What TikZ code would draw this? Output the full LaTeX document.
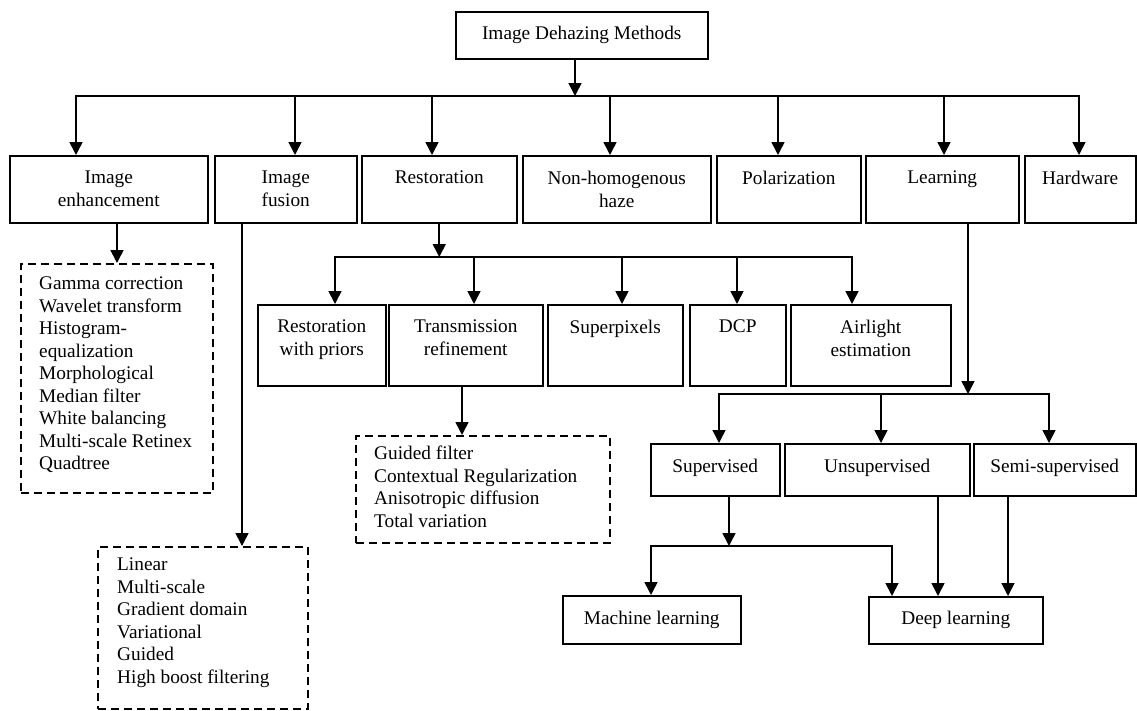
\documentclass[tikz,border=0pt]{standalone}
\usepackage{fontspec}
\setmainfont{Liberation Serif}
\usetikzlibrary{arrows.meta}
\begin{document}
\begin{tikzpicture}[x=1pt,y=-1pt,
  box/.style={draw, line width=1.5pt, inner sep=0pt, anchor=north west},
  txt/.style={font=\fontsize{19.3}{22.5}\selectfont, align=center, inner sep=0pt, anchor=north},
  list/.style={font=\fontsize{19.3}{22.5}\selectfont, align=left, inner sep=0pt, anchor=north west},
  dbox/.style={draw, line width=2pt, dash pattern=on 8pt off 5pt, inner sep=0pt, anchor=north west},
  arr/.style={line width=1.6pt, -{Triangle[width=13pt,length=13pt]}},
  bus/.style={line width=2pt, line cap=rect}]
\useasboundingbox (0,0) rectangle (1137,710);

% root
\node[box, font=\fontsize{19.3}{22.5}\selectfont, minimum width=252pt, minimum height=47pt] (top) at (455,11) {Image Dehazing Methods};

% first level
\node[box, minimum width=198pt, minimum height=67pt] (ie)   at (9,155)    {};
\node[box, minimum width=142pt, minimum height=67pt] (if)   at (214,155)  {};
\node[box, minimum width=155pt, minimum height=67pt] (rest) at (361,155)  {};
\node[box, minimum width=188pt, minimum height=67pt] (nh)   at (522,155)  {};
\node[box, minimum width=144pt, minimum height=67pt] (pol)  at (716,155)  {};
\node[box, minimum width=153pt, minimum height=67pt] (lrn)  at (865,155)  {};
\node[box, minimum width=111pt, minimum height=67pt] (hw)   at (1024,155) {};
\node[txt] (ieT)   at ([yshift=-16pt]ie.north)   {Image\\enhancement};
\node[txt] (ifT)   at ([yshift=-16pt]if.north)   {Image\\fusion};
\node[txt] (restT) at ([yshift=-16pt]rest.north) {Restoration};
\node[txt] (nhT)   at ([yshift=-16pt]nh.north)   {Non-homogenous\\haze};
\node[txt] (polT)  at ([yshift=-16pt]pol.north)  {Polarization};
\node[txt] (lrnT)  at ([yshift=-16pt]lrn.north)  {Learning};
\node[txt] (hwT)   at ([yshift=-16pt]hw.north)   {Hardware};

% restoration branch
\node[box, minimum width=128pt, minimum height=81pt] (rwp) at (257,304) {};
\node[box, minimum width=154pt, minimum height=81pt] (tr)  at (388,304) {};
\node[box, minimum width=135pt, minimum height=81pt] (sp)  at (547,304) {};
\node[box, minimum width=96pt,  minimum height=81pt] (dcp) at (689,304) {};
\node[box, minimum width=160pt, minimum height=81pt] (ae)  at (790,304) {};
\node[txt] (rwpT) at ([yshift=-16pt]rwp.north) {Restoration\\with priors};
\node[txt] (trT)  at ([yshift=-16pt]tr.north)  {Transmission\\refinement};
\node[txt] (spT)  at ([yshift=-16pt]sp.north)  {Superpixels};
\node[txt] (dcpT) at ([yshift=-16pt]dcp.north) {DCP};
\node[txt] (aeT)  at ([yshift=-16pt]ae.north)  {Airlight\\estimation};

% learning branch
\node[box, minimum width=129pt, minimum height=52pt] (sup)  at (650,443) {};
\node[box, minimum width=185pt, minimum height=52pt] (uns)  at (784,443) {};
\node[box, minimum width=162pt, minimum height=52pt] (semi) at (973,443) {};
\node[txt] (supT)  at ([yshift=-16pt]sup.north)  {Supervised};
\node[txt] (unsT)  at ([yshift=-16pt]uns.north)  {Unsupervised};
\node[txt] (semiT) at ([yshift=-16pt]semi.north) {Semi-supervised};
\node[box, font=\fontsize{19.3}{22.5}\selectfont, minimum width=178pt, minimum height=48pt] (ml) at (562,595) {Machine learning};
\node[box, font=\fontsize{19.3}{22.5}\selectfont, minimum width=174pt, minimum height=47pt] (dl) at (868,596) {Deep learning};

% dashed lists
\node[dbox, minimum width=192pt, minimum height=229pt] (d1) at (20,263) {};
\node[dbox, minimum width=210pt, minimum height=162pt] (d2) at (97,546) {};
\node[dbox, minimum width=254pt, minimum height=107pt] (d3) at (355,435) {};
\node[list] (d1T) at (39,277) {Gamma correction\\Wavelet transform\\Histogram-\\equalization\\Morphological\\Median filter\\White balancing\\Multi-scale Retinex\\Quadtree};
\node[list] (d2T) at (117,558) {Linear\\Multi-scale\\Gradient domain\\Variational\\Guided\\High boost filtering};
\node[list] (d3T) at (374,446) {Guided filter\\Contextual Regularization\\Anisotropic diffusion\\Total variation};

% main bus
\coordinate (t0) at (575,96);
\coordinate (b1a) at (76,96);   \coordinate (b1b) at (295,96);
\coordinate (b1c) at (432,96);  \coordinate (b1d) at (610,96);
\coordinate (b1e) at (778,96);  \coordinate (b1f) at (944,96);
\coordinate (b1g) at (1079,96);
\draw[arr] (top.south -| t0) -- (t0);
\draw[bus] (b1a) -- (b1g);
\foreach \c/\n in {b1a/ie, b1b/if, b1c/rest, b1d/nh, b1e/pol, b1f/lrn, b1g/hw}
  \draw[arr] (\c) -- (\c |- \n.north);

% enhancement and fusion lists
\draw[arr] (d1.north |- ie.south) -- (d1.north);
\coordinate (fx) at (242,0);
\draw[arr] (fx |- if.south) -- (fx |- d2.north);

% restoration bus
\coordinate (b2a) at (335,257); \coordinate (b2b) at (474,257);
\coordinate (b2c) at (622,257); \coordinate (b2d) at (737,257);
\coordinate (b2e) at (852,257);
\draw[arr] (rest.south) -- (rest.south |- b2a);
\draw[bus] (b2a) -- (b2e);
\foreach \c/\n in {b2a/rwp, b2b/tr, b2c/sp, b2d/dcp, b2e/ae}
  \draw[arr] (\c) -- (\c |- \n.north);
\coordinate (tx) at (462,0);
\draw[arr] (tx |- tr.south) -- (tx |- d3.north);

% learning bus
\coordinate (lx) at (968,394);
\coordinate (b3a) at (719,394); \coordinate (b3b) at (881,394);
\coordinate (b3c) at (1049,394);
\draw[arr] (lx |- lrn.south) -- (lx);
\draw[bus] (b3a) -- (b3c);
\foreach \c/\n in {b3a/sup, b3b/uns, b3c/semi}
  \draw[arr] (\c) -- (\c |- \n.north);

% supervised bus and deep learning inputs
\coordinate (sx) at (729,546);
\coordinate (b4a) at (651,546); \coordinate (b4b) at (892,546);
\draw[arr] (sx |- sup.south) -- (sx);
\draw[bus] (b4a) -- (b4b);
\draw[arr] (b4a) -- (b4a |- ml.north);
\draw[arr] (b4b) -- (b4b |- dl.north);
\coordinate (ux) at (938,0);
\coordinate (mx) at (1008,0);
\draw[arr] (ux |- uns.south) -- (ux |- dl.north);
\draw[arr] (mx |- semi.south) -- (mx |- dl.north);
\end{tikzpicture}
\end{document}
